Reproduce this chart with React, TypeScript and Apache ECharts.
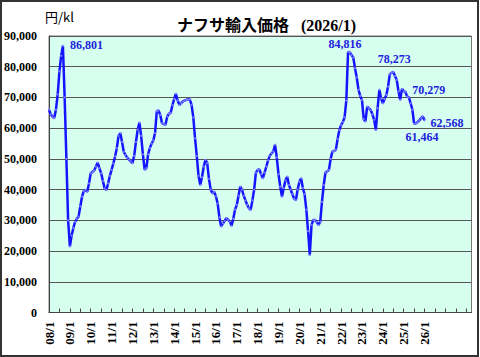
import React, { useEffect, useRef } from "react";
import * as echarts from "echarts";

// Naphtha import price (yen/kl), monthly, 2008/1 .. 2026/1
const y2008 = [66000, 64500, 63800, 63300, 66000, 71000, 78500, 83500, 86801, 70000, 50000, 30000];
const y2009 = [21500, 25000, 27500, 29500, 30500, 31200, 34500, 37700, 39500, 39900, 39300, 42000];
const y2010 = [45300, 45800, 46200, 47500, 48800, 47000, 45300, 42800, 40400, 39900, 42000, 44500];
const y2011 = [46400, 48500, 50800, 53500, 57500, 58400, 55500, 52300, 51300, 50400, 49800, 49200];
const y2012 = [48600, 51000, 55500, 59500, 61800, 57500, 51500, 46500, 47000, 51500, 53500, 55000];
const y2013 = [56000, 58400, 65500, 65800, 64300, 61600, 61300, 61100, 63800, 64700, 65000, 67500];
const y2014 = [69500, 71200, 69000, 67600, 68200, 68700, 69000, 69200, 69400, 69300, 67600, 63500];
const y2015 = [56700, 51000, 44500, 41500, 44000, 47500, 49700, 48600, 43500, 40000, 38800, 39300];
const y2016 = [37800, 35500, 31000, 28000, 29000, 29800, 30700, 30200, 29600, 28200, 30500, 33500];
const y2017 = [35000, 38000, 41000, 40000, 38000, 36500, 35000, 34000, 33400, 36500, 40000, 45500];
const y2018 = [46400, 46600, 45000, 43700, 45500, 47500, 49500, 51000, 51800, 52400, 54600, 50500];
const y2019 = [45000, 41000, 37700, 40500, 43000, 44200, 41500, 40000, 38500, 37000, 36600, 40000];
const y2020 = [42500, 43700, 40500, 38500, 33500, 26500, 18700, 28500, 30100, 30100, 29500, 28500];
const y2021 = [29500, 36000, 41500, 45500, 46000, 46400, 50000, 52400, 52600, 53000, 56500, 59400];
const y2022 = [61000, 62000, 63500, 69000, 84816, 84600, 83800, 83000, 79500, 76500, 72500, 70500];
const y2023 = [69200, 63000, 62200, 67000, 66500, 65900, 64500, 62700, 59400, 66500, 72500, 69700];
const y2024 = [68100, 69500, 70800, 73500, 77500, 78000, 78273, 77000, 75700, 72000, 69200, 72800];
const y2025 = [72000, 71800, 70279, 70000, 68100, 66000, 61464, 61600, 62000, 62500, 63300, 63800];
const y2026 = [62568];

const yearLabels = [
  "08/1", "09/1", "10/1", "11/1", "12/1", "13/1", "14/1", "15/1", "16/1", "17/1",
  "18/1", "19/1", "20/1", "21/1", "22/1", "23/1", "24/1", "25/1", "26/1",
];

// months (from 2008/1) of the labelled points
const labelledMonths = [8, 172, 198, 206, 210, 216];

const SERIF = "'Liberation Serif', 'Times New Roman', serif";

export default function App() {
  const ref = useRef<HTMLDivElement>(null);

  useEffect(() => {
    if (!ref.current) return;
    const chart = echarts.init(ref.current, undefined, { renderer: "svg" });

    const values = [
      ...y2008, ...y2009, ...y2010, ...y2011, ...y2012, ...y2013, ...y2014,
      ...y2015, ...y2016, ...y2017, ...y2018, ...y2019, ...y2020, ...y2021,
      ...y2022, ...y2023, ...y2024, ...y2025, ...y2026,
    ];

    const labelStyles: Record<number, any> = {
      8: { position: "right", distance: 6, offset: [0, -1] },
      172: { position: "top", offset: [-3, 4] },
      198: { position: "top", offset: [1, -1] },
      206: { position: "right", offset: [-1, -7] },
      210: { position: "bottom", offset: [8, 1] },
      216: { position: "right", offset: [0, 3] },
    };

    const data = values.map((v, i) => {
      if (labelledMonths.includes(i)) {
        return {
          value: [i, v],
          label: {
            show: true,
            formatter: (p: any) => Number(p.value[1]).toLocaleString("en-US"),
            ...labelStyles[i],
          },
        };
      }
      return [i, v];
    });

    chart.setOption({
      animation: false,
      backgroundColor: "#ffffff",
      title: {
        text: "ナフサ輸入価格   (2026/1)",
        left: 172,
        top: 12,
        textStyle: {
          fontFamily: "'Liberation Serif', 'Noto Sans CJK JP'",
          fontWeight: "bold",
          fontSize: 16,
          color: "#000",
        },
      },
      graphic: [
        {
          type: "text",
          left: 45,
          top: 10,
          style: {
            text: "円/kl",
            fontFamily: "'Noto Sans CJK JP'",
            fontSize: 13,
            fill: "#000",
          },
        },
        {
          type: "rect",
          shape: { x: 1, y: 1, width: 477, height: 355 },
          style: { fill: "none", stroke: "#333", lineWidth: 2 },
          silent: true,
        },
      ],
      grid: {
        left: 49,
        right: 8.5,
        top: 36,
        bottom: 44.5,
        show: true,
        backgroundColor: "#d6fff0",
        borderColor: "#777",
        borderWidth: 1,
      },
      xAxis: {
        type: "value",
        min: 0,
        max: 243,
        interval: 6,
        axisLine: { show: true, lineStyle: { color: "#444", width: 1 } },
        axisTick: { show: true, inside: true, length: 4, lineStyle: { color: "#444" } },
        splitLine: { show: false },
        axisLabel: {
          rotate: 90,
          margin: 9,
          fontFamily: SERIF,
          fontWeight: "bold",
          fontSize: 13,
          color: "#000",
          showMaxLabel: false,
          formatter: (v: number) => (v % 12 === 0 ? yearLabels[v / 12] || "" : ""),
        },
      },
      yAxis: {
        type: "value",
        min: 0,
        max: 90000,
        interval: 10000,
        axisLine: { show: true, lineStyle: { color: "#444" } },
        axisTick: { show: false },
        splitLine: { show: true, lineStyle: { color: "#555", width: 1 } },
        axisLabel: {
          margin: 12,
          fontFamily: SERIF,
          fontWeight: "bold",
          fontSize: 12,
          color: "#000",
          formatter: (v: number) => v.toLocaleString("en-US"),
        },
      },
      series: [
        {
          type: "line",
          data,
          symbol: "circle",
          symbolSize: 2,
          showSymbol: true,
          lineStyle: { color: "#1414ff", width: 2.5 },
          itemStyle: { color: "#8080ff", borderWidth: 0 },
          label: {
            show: false,
            fontFamily: SERIF,
            fontWeight: "bold",
            fontSize: 12,
            color: "#2222dd",
          },
          emphasis: { disabled: true },
          z: 3,
        },
      ],
    });

    return () => chart.dispose();
  }, []);

  return (
    <div
      ref={ref}
      style={{ position: "fixed", left: 0, top: 0, width: 480, height: 357 }}
    />
  );
}
